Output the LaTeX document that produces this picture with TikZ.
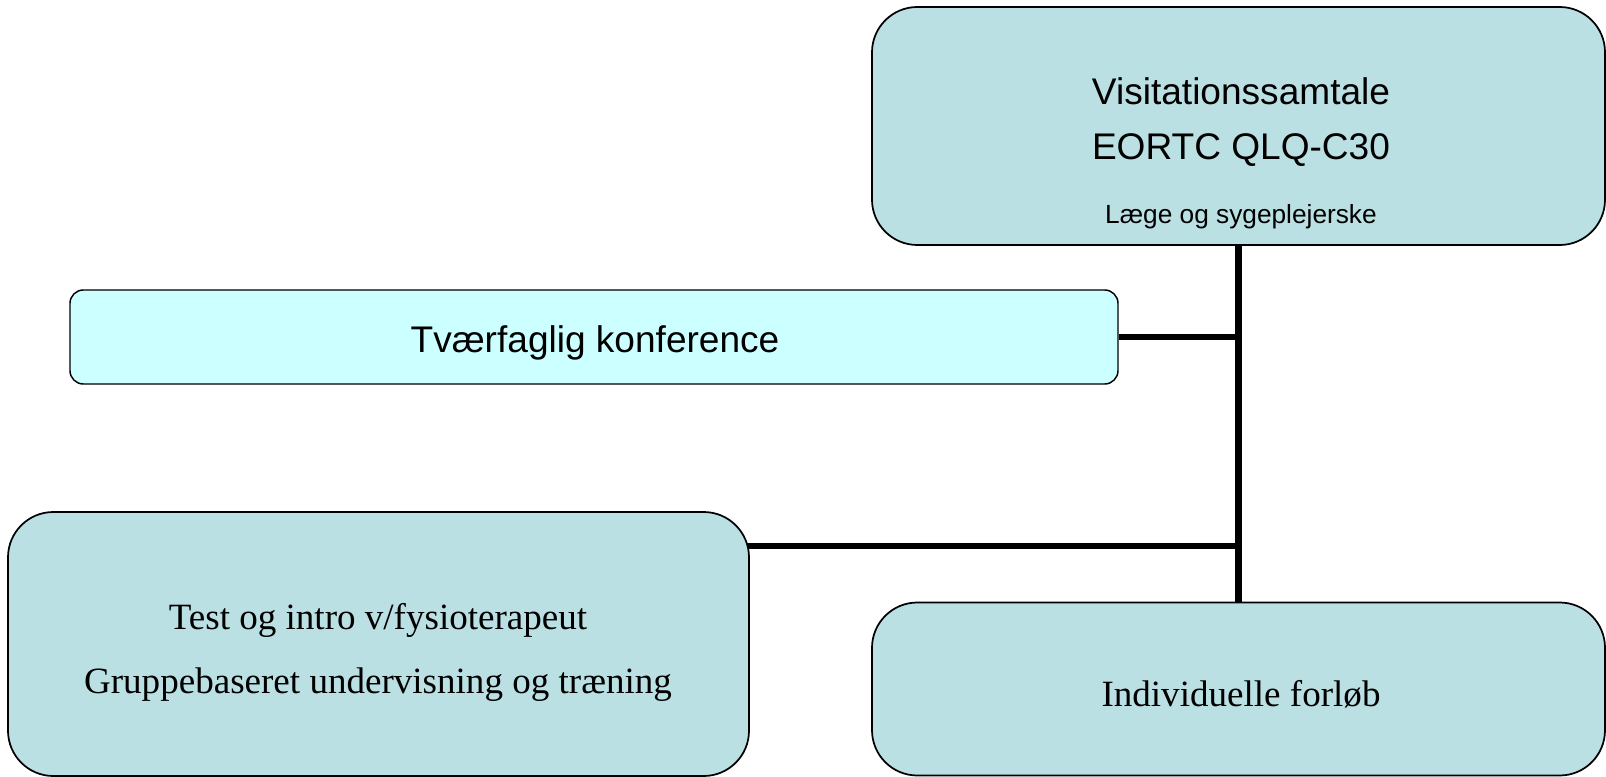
\documentclass[tikz,border=0pt]{standalone}
\usepackage{fontspec}
\setmainfont{Liberation Serif}
\setsansfont{Liberation Sans}
\usetikzlibrary{backgrounds}
\definecolor{boxblue}{HTML}{BBE0E3}
\definecolor{boxcyan}{HTML}{CCFFFF}
\tikzset{
  bigbox/.style={draw=black, line width=1.3pt, fill=boxblue, rounded corners=34pt, inner sep=0pt},
  flatbox/.style={draw=black, line width=1.1pt, fill=boxcyan, rounded corners=10pt, inner sep=0pt},
  sanstxt/.style={font=\sffamily\fontsize{27.8}{33}\selectfont, anchor=base, inner sep=0pt},
  smalltxt/.style={font=\sffamily\fontsize{19.7}{24}\selectfont, anchor=base, inner sep=0pt},
  seriftxt/.style={font=\rmfamily\fontsize{27.8}{33}\selectfont, anchor=base, inner sep=0pt},
  conn/.style={line width=4pt, draw=black}
}
\begin{document}
\begin{tikzpicture}[x=0.75pt, y=-0.75pt]
\useasboundingbox (0,0) rectangle (1606,777);
\node[bigbox, minimum width=549.75pt, minimum height=178.5pt] (top) at (1238.5,126) {};
\node[flatbox, minimum width=786pt, minimum height=70.5pt] (tvaer) at (594,337) {};
\node[bigbox, minimum width=555.75pt, minimum height=198pt] (test) at (378.5,644) {};
\node[bigbox, minimum width=549.75pt, minimum height=129.75pt] (ind) at (1238.5,689) {};
\coordinate (testc) at (745,546);
\node[sanstxt] (t1) at (1241,105) {Visitationssamtale};
\node[sanstxt] (t2) at (1241,160) {EORTC QLQ-C30};
\node[smalltxt] (t3) at (1241,224) {Læge og sygeplejerske};
\node[sanstxt] (t4) at (595,352) {Tværfaglig konference};
\node[seriftxt] (t5) at (378,629) {Test og intro v/fysioterapeut};
\node[seriftxt] (t6) at (378,693) {Gruppebaseret undervisning og træning};
\node[seriftxt] (t7) at (1241,706) {Individuelle forløb};
\begin{scope}[on background layer]
\draw[conn, line width=4.6pt] (top.south) -- (ind.north);
\draw[conn] (tvaer.east) -- (tvaer.east -| top.south);
\draw[conn] (testc) -- (testc -| top.south);
\end{scope}
\end{tikzpicture}
\end{document}
